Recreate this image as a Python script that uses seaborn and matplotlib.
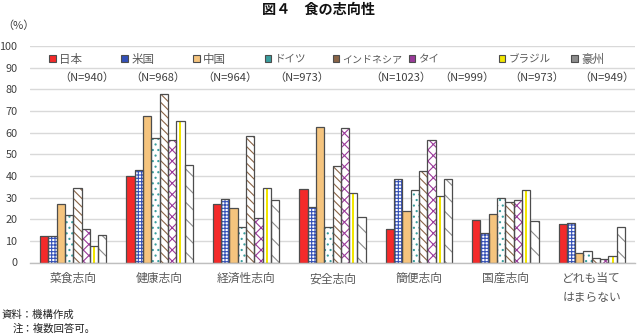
import matplotlib
matplotlib.use("Agg")
import matplotlib.pyplot as plt
from matplotlib.patches import Rectangle, Patch
import seaborn as sns
import pandas as pd

categories = ["菜食志向", "健康志向", "経済性志向", "安全志向", "簡便志向", "国産志向", "どれも当て\nはまらない"]
countries = ["日本", "米国", "中国", "ドイツ", "インドネシア", "タイ", "ブラジル", "豪州"]
n_labels = ["（N=940）", "（N=968）", "（N=964）", "（N=973）", "（N=1023）", "（N=999）", "（N=973）", "（N=949）"]

japan     = [12.3, 39.8, 26.9, 34.0, 15.7, 19.7, 17.8]
usa       = [12.3, 42.6, 29.2, 25.5, 38.5, 13.5, 18.4]
china     = [27.1, 67.7, 25.1, 62.6, 23.7, 22.3, 4.6]
germany   = [21.8, 57.4, 16.6, 16.2, 33.4, 29.8, 5.4]
indonesia = [34.6, 77.8, 58.5, 44.8, 42.3, 28.0, 2.0]
thailand  = [15.7, 56.6, 20.6, 62.3, 56.8, 28.8, 1.4]
brazil    = [7.7, 65.4, 34.2, 32.0, 30.6, 33.7, 2.9]
australia = [12.6, 45.1, 28.8, 20.8, 38.7, 19.1, 16.2]

series = [japan, usa, china, germany, indonesia, thailand, brazil, australia]

rows = []
for c, vals in zip(countries, series):
    for cat, v in zip(categories, vals):
        rows.append({"category": cat, "country": c, "value": v})
df = pd.DataFrame(rows)

# styles: fill colour, hatch, hatch colour
fills   = ["#F42A2A", "white", "#F5C47E", "white", "white", "white", "white", "white"]
hatches = ["", "+++++", "", "...", "\\\\\\\\", "xxx", "", "\\\\"]
hcolors = ["#F42A2A", "#3350B8", "#F5C47E", "#3A9E9E", "#8A6446", "#9A3A9A", "#F2E600", "#8C8C8C"]
outline = "#4D4D4D"

sns.set_theme(style="white")
plt.rcParams["font.family"] = ["Noto Sans CJK JP", "DejaVu Sans"]
plt.rcParams["hatch.linewidth"] = 0.8

fig = plt.figure(figsize=(6.4, 3.36), dpi=100)
ax = fig.add_axes([30 / 640, 1 - 262.5 / 336, 605 / 640, 216.5 / 336])

sns.barplot(data=df, x="category", y="value", hue="country", hue_order=countries,
            order=categories, palette=dict(zip(countries, fills)), width=0.77,
            ax=ax, legend=False, errorbar=None, saturation=1)

for i, cont in enumerate(ax.containers):
    for bar in cont:
        bar.set_facecolor(fills[i])
        bar.set_hatch(hatches[i])
        bar.set_edgecolor(hcolors[i])
        bar.set_linewidth(0)
        x0, y0 = bar.get_xy()
        w, h = bar.get_width(), bar.get_height()
        if countries[i] == "ブラジル":
            ax.add_patch(Rectangle((x0 + w * 0.38, y0), w * 0.24, h,
                                   facecolor=hcolors[i], edgecolor="none", zorder=bar.get_zorder()))
        ax.add_patch(Rectangle((x0, y0), w, h, fill=False, edgecolor=outline,
                               linewidth=0.9, zorder=bar.get_zorder() + 0.1))

ax.set_ylim(0, 100)
ax.set_xlim(-0.5, len(categories) - 0.5)
ax.set_yticks(range(0, 101, 10))
ax.yaxis.grid(True, color="#D9D9D9", linewidth=1)
ax.set_axisbelow(True)
for s in ["top", "right", "left"]:
    ax.spines[s].set_visible(False)
ax.spines["bottom"].set_color("#BFBFBF")
ax.spines["bottom"].set_linewidth(1)
ax.tick_params(axis="y", length=0, pad=9, labelsize=7.8, labelcolor="#404040")
ax.tick_params(axis="x", length=0, pad=7, labelsize=8.5, labelcolor="#595959")
ax.set_xlabel("")
ax.set_ylabel("")
for lbl in ax.get_xticklabels():
    lbl.set_linespacing(1.6)
    lbl.set_verticalalignment("top")

# legend: one entry per position, as in the reference
leg_x = [49, 121, 193, 265, 333, 409, 499, 571]
leg_fs = [8.3, 8.3, 8.3, 7.6, 7.2, 7.6, 7.6, 8.3]
for i, (c, lx) in enumerate(zip(countries, leg_x)):
    h = Patch(facecolor=fills[i] if fills[i] != "white" else hcolors[i],
              edgecolor=outline, linewidth=0.8)
    lg = fig.legend([h], [c], loc="center left",
                    bbox_to_anchor=(lx / 640, 1 - 59 / 336), frameon=False,
                    fontsize=leg_fs[i], handlelength=0.6, handleheight=0.6, handletextpad=0.3,
                    borderaxespad=0, borderpad=0)
    for t in lg.get_texts():
        t.set_color("#595959")

n_x = [87, 158, 230, 302, 401, 467, 537, 607]
for x, t in zip(n_x, n_labels):
    fig.text(x / 640, 1 - 78 / 336, t, ha="center", va="center", fontsize=8, color="#404040")

fig.text(319 / 640, 1 - 10 / 336, "図４　食の志向性", ha="center", va="center",
         fontsize=10.2, fontweight="bold", color="#111111")
fig.text(2 / 640, 1 - 26 / 336, "（%）", ha="left", va="center", fontsize=8, color="#404040")
fig.text(2 / 640, 1 - 315 / 336, "資料：機構作成", ha="left", va="center", fontsize=7.5, color="#222222")
fig.text(13 / 640, 1 - 329 / 336, "注：複数回答可。", ha="left", va="center", fontsize=7.5, color="#222222")

fig.savefig("out.png", dpi=100)
